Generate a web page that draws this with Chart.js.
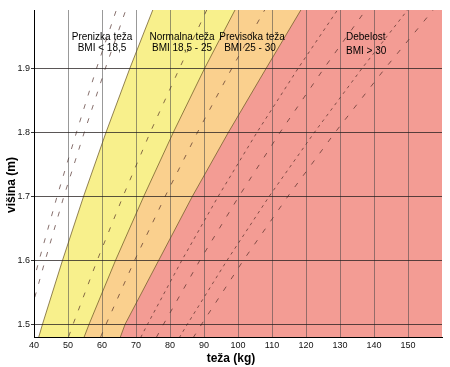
<!DOCTYPE html>
<html>
<head>
<meta charset="utf-8">
<script src="https://cdn.jsdelivr.net/npm/chart.js@4.4.1/dist/chart.umd.min.js"></script>
<style>
  html, body { margin: 0; padding: 0; background: #fff; }
  #wrap { width: 450px; height: 367px; }
</style>
</head>
<body>
<div id="wrap"><canvas id="bmiChart"></canvas></div>
<script>
const heights = [1.46, 1.5, 1.6, 1.7, 1.8, 1.9, 2.0];

// region limits: weight (kg) at each of the heights above
const limitUnder  = [40.3, 42.5, 48.4, 54.6, 61.2, 68.2, 75.6];
const limitNormal = [53.3, 56.2, 64.0, 72.3, 81.0, 90.2, 100.0];
const limitOver   = [64.0, 66.8, 76.7, 86.6, 97.2, 108.3, 119.5];

// dashed guide lines, weight (kg) at each height
const guide1 = [34.5, 36.5, 41.5, 46.8, 52.5, 58.4, 64.8];
const guide2 = [36.0, 38.0, 43.3, 48.8, 54.8, 61.0, 67.6];
const guide3 = [48.8, 51.5, 58.6, 66.2, 74.2, 82.8, 91.6];
const guide4 = [58.0, 61.2, 69.6, 78.6, 88.1, 98.2, 108.8];
const guide5 = [69.5, 73.4, 83.5, 94.2, 105.6, 117.7, 130.4];
const guide6 = [74.0, 78.1, 88.8, 100.3, 112.4, 125.3, 138.8];
const guide7 = [80.6, 85.1, 96.8, 109.2, 122.5, 136.5, 151.2];
const guide8 = [84.6, 89.3, 101.6, 114.7, 128.6, 143.3, 158.8];

// axis ticks
const weightTicks = [40, 50, 60, 70, 80, 90, 100, 110, 120, 130, 140, 150];
const heightTicks = [1.5, 1.6, 1.7, 1.8, 1.9];

// region names
const regionNames = ['Prenizka teža', 'Normalna teža', 'Previsoka teža', 'Debelost'];
const regionRanges = ['BMI < 18,5', 'BMI 18,5 - 25', 'BMI 25 - 30', 'BMI > 30'];

function toPoints(weights) {
  return weights.map((w, i) => ({ x: w, y: heights[i] }));
}

// limit line continued along the top so the fill reaches the right edge
function regionPoints(weights) {
  const pts = toPoints(weights);
  pts.push({ x: 200, y: heights[heights.length - 1] });
  return pts;
}

function regionSet(weights, color, order) {
  return {
    data: regionPoints(weights),
    showLine: true,
    fill: 'start',
    backgroundColor: color,
    borderColor: 'rgba(110, 90, 40, 0.75)',
    borderWidth: 1,
    pointRadius: 0,
    order: order
  };
}

function guideSet(weights, dash) {
  return {
    data: toPoints(weights),
    showLine: true,
    fill: false,
    borderColor: 'rgba(70, 35, 30, 0.65)',
    borderWidth: 1,
    borderDash: dash,
    pointRadius: 0,
    order: 0
  };
}

const longDash = [5, 9];
const shortDash = [3, 4];

// text labels (titles + region captions)
const labelPlugin = {
  id: 'labels',
  afterDraw(chart) {
    const ctx = chart.ctx;
    ctx.save();
    ctx.fillStyle = '#000';
    ctx.textBaseline = 'middle';

    ctx.font = '10px "Liberation Sans", Arial, sans-serif';
    ctx.textAlign = 'center';
    ctx.fillText(regionNames[0], 102, 37);
    ctx.fillText(regionRanges[0], 102, 48);
    ctx.fillText(regionNames[1], 182, 37);
    ctx.fillText(regionRanges[1], 182, 48);
    ctx.fillText(regionNames[2], 252, 37);
    ctx.fillText(regionRanges[2], 250, 48);
    ctx.textAlign = 'left';
    ctx.fillText(regionNames[3], 346, 37);
    ctx.fillText(regionRanges[3], 346, 51);

    // axis titles
    ctx.font = 'bold 12px "Liberation Sans", Arial, sans-serif';
    ctx.textAlign = 'center';
    ctx.fillText('teža (kg)', 231, 359);
    ctx.translate(12, 185);
    ctx.rotate(-Math.PI / 2);
    ctx.fillText('višina (m)', 0, 0);
    ctx.restore();
  }
};

new Chart(document.getElementById('bmiChart'), {
  type: 'scatter',
  data: {
    datasets: [
      regionSet(limitUnder, '#F8F08C', 3),
      regionSet(limitNormal, '#FAD08E', 2),
      regionSet(limitOver, '#F39C94', 1),
      guideSet(guide1, longDash),
      guideSet(guide2, longDash),
      guideSet(guide3, longDash),
      guideSet(guide4, longDash),
      guideSet(guide5, shortDash),
      guideSet(guide6, longDash),
      guideSet(guide7, shortDash),
      guideSet(guide8, longDash)
    ]
  },
  options: {
    responsive: true,
    maintainAspectRatio: false,
    animation: false,
    layout: { padding: { left: 0, top: 10, right: 8, bottom: 0 } },
    plugins: {
      legend: { display: false },
      tooltip: { enabled: false }
    },
    scales: {
      x: {
        type: 'linear',
        min: 40,
        max: 160,
        afterBuildTicks: (scale) => { scale.ticks = weightTicks.map(v => ({ value: v })); },
        afterFit: (scale) => { scale.height = 30; },
        ticks: {
          color: '#111',
          padding: 3,
          maxRotation: 0,
          font: { family: '"Liberation Sans", Arial, sans-serif', size: 9 }
        },
        grid: {
          z: 1,
          color: 'rgba(70, 70, 70, 0.55)',
          lineWidth: 1,
          drawTicks: false
        },
        border: { display: true, color: '#000', width: 1, z: 2 }
      },
      y: {
        type: 'linear',
        min: 1.48,
        max: 1.991,
        afterBuildTicks: (scale) => { scale.ticks = heightTicks.map(v => ({ value: v })); },
        afterFit: (scale) => { scale.width = 34; },
        ticks: {
          color: '#111',
          padding: 1,
          callback: (v) => v.toFixed(1),
          font: { family: '"Liberation Sans", Arial, sans-serif', size: 9 }
        },
        grid: {
          z: 1,
          color: 'rgba(35, 30, 30, 0.75)',
          lineWidth: 1,
          drawTicks: true,
          tickLength: 3,
          tickColor: '#333'
        },
        border: { display: true, color: '#000', width: 1, z: 2 }
      }
    }
  },
  plugins: [labelPlugin]
});
</script>
</body>
</html>
